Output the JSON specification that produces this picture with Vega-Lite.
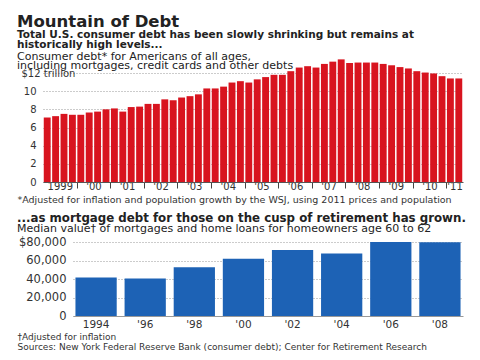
{
  "$schema": "https://vega.github.io/schema/vega-lite/v6.json",
  "background": "white",
  "padding": {"left": 17, "top": 13, "right": 5, "bottom": 0},
  "spacing": 8,
  "config": {
    "font": "DejaVu Sans",
    "view": {"stroke": null},
    "axis": {"labelColor": "#333", "labelFont": "DejaVu Sans", "titleFont": "DejaVu Sans", "titleColor": "#333"},
    "title": {"color": "#222", "subtitleColor": "#222", "font": "DejaVu Sans", "subtitleFont": "DejaVu Sans"}
  },
  "title": {
    "text": "Mountain of Debt",
    "subtitle": ["Total U.S. consumer debt has been slowly shrinking but remains at", "historically high levels..."],
    "anchor": "start",
    "fontSize": 16.5,
    "fontWeight": "bold",
    "subtitleFontSize": 10.5,
    "subtitleFontWeight": "bold",
    "subtitleLineHeight": 10,
    "subtitlePadding": 0,
    "offset": 0
  },
  "vconcat": [
    {
      "width": 390,
      "height": 109,
      "title": {
        "text": ["Consumer debt* for Americans of all ages,", "including mortgages, credit cards and other debts"],
        "anchor": "start",
        "frame": "group",
        "dx": -56,
        "fontSize": 11,
        "fontWeight": "normal",
        "lineHeight": 9,
        "offset": -11.5
      },
      "data": {
        "values": [
          {"q": "1999Q1", "debt": 7.1}, {"q": "1999Q2", "debt": 7.25}, {"q": "1999Q3", "debt": 7.5}, {"q": "1999Q4", "debt": 7.4},
          {"q": "2000Q1", "debt": 7.4}, {"q": "2000Q2", "debt": 7.65}, {"q": "2000Q3", "debt": 7.75}, {"q": "2000Q4", "debt": 8.0},
          {"q": "2001Q1", "debt": 8.1}, {"q": "2001Q2", "debt": 7.75}, {"q": "2001Q3", "debt": 8.25}, {"q": "2001Q4", "debt": 8.3},
          {"q": "2002Q1", "debt": 8.6}, {"q": "2002Q2", "debt": 8.6}, {"q": "2002Q3", "debt": 9.1}, {"q": "2002Q4", "debt": 9.0},
          {"q": "2003Q1", "debt": 9.3}, {"q": "2003Q2", "debt": 9.45}, {"q": "2003Q3", "debt": 9.65}, {"q": "2003Q4", "debt": 10.3},
          {"q": "2004Q1", "debt": 10.3}, {"q": "2004Q2", "debt": 10.5}, {"q": "2004Q3", "debt": 10.95}, {"q": "2004Q4", "debt": 11.1},
          {"q": "2005Q1", "debt": 10.95}, {"q": "2005Q2", "debt": 11.3}, {"q": "2005Q3", "debt": 11.55}, {"q": "2005Q4", "debt": 11.8},
          {"q": "2006Q1", "debt": 11.8}, {"q": "2006Q2", "debt": 12.2}, {"q": "2006Q3", "debt": 12.6}, {"q": "2006Q4", "debt": 12.75},
          {"q": "2007Q1", "debt": 12.6}, {"q": "2007Q2", "debt": 13.0}, {"q": "2007Q3", "debt": 13.25}, {"q": "2007Q4", "debt": 13.5},
          {"q": "2008Q1", "debt": 13.1}, {"q": "2008Q2", "debt": 13.15}, {"q": "2008Q3", "debt": 13.15}, {"q": "2008Q4", "debt": 13.15},
          {"q": "2009Q1", "debt": 13.0}, {"q": "2009Q2", "debt": 12.85}, {"q": "2009Q3", "debt": 12.65}, {"q": "2009Q4", "debt": 12.5},
          {"q": "2010Q1", "debt": 12.2}, {"q": "2010Q2", "debt": 12.05}, {"q": "2010Q3", "debt": 11.95}, {"q": "2010Q4", "debt": 11.65},
          {"q": "2011Q1", "debt": 11.4}, {"q": "2011Q2", "debt": 11.4}
        ]
      },
      "mark": {"type": "bar", "color": "#d8141f", "clip": false},
      "encoding": {
        "x": {
          "field": "q",
          "type": "ordinal",
          "sort": null,
          "scale": {"range": [-30, 390], "paddingInner": 0.18, "paddingOuter": 0.09},
          "axis": {
            "title": "*Adjusted for inflation and population growth by the WSJ, using 2011 prices and population",
            "titleFontSize": 9.5,
            "titleFontWeight": "normal",
            "titleAnchor": "start",
            "titleAlign": "left",
            "titleBaseline": "top",
            "titleX": -56,
            "titleY": 12,
            "labelAngle": 0,
            "labelFontSize": 10,
            "labelPadding": -7,
            "tickOffset": -4.2,
            "tickSize": 6,
            "tickColor": "#444",
            "tickOpacity": {"condition": {"test": "substring(datum.value, 4, 6) == 'Q1' && datum.value != '1999Q1'", "value": 1}, "value": 0},
            "domainColor": "#555",
            "labelExpr": "(substring(datum.value, 4, 6) == 'Q3' || datum.value == '2011Q2') ? (substring(datum.value, 0, 4) == '1999' ? '1999' : \"'\" + substring(datum.value, 2, 4)) : ''"
          }
        },
        "y": {
          "field": "debt",
          "type": "quantitative",
          "scale": {"domain": [0, 12], "nice": false},
          "axis": {
            "title": null,
            "values": [0, 2, 4, 6, 8, 10, 12],
            "domain": false,
            "ticks": false,
            "grid": true,
            "gridDash": [1, 2],
            "gridColor": "#999",
            "labelFontSize": 10,
            "labelExpr": "datum.value == 12 ? '$12 trillion' : datum.label",
            "labelAlign": {"condition": {"test": "datum.value == 12", "value": "left"}, "value": "right"},
            "labelPadding": {"condition": {"test": "datum.value == 12", "value": 52}, "value": 37}
          }
        }
      }
    },
    {
      "width": 390,
      "height": 74,
      "title": {
        "text": "...as mortgage debt for those on the cusp of retirement has grown.",
        "subtitle": "Median value† of mortgages and home loans for homeowners age 60 to 62",
        "anchor": "start",
        "frame": "group",
        "dx": -56,
        "fontSize": 11.8,
        "fontWeight": "bold",
        "subtitleFontSize": 11,
        "subtitlePadding": -1.5,
        "offset": 2
      },
      "data": {
        "values": [
          {"year": "1994", "value": 41600},
          {"year": "'96", "value": 40500},
          {"year": "'98", "value": 52700},
          {"year": "'00", "value": 62000},
          {"year": "'02", "value": 71300},
          {"year": "'04", "value": 67700},
          {"year": "'06", "value": 80000},
          {"year": "'08", "value": 79600}
        ]
      },
      "mark": {"type": "bar", "color": "#1d62b5"},
      "encoding": {
        "x": {
          "field": "year",
          "type": "nominal",
          "sort": null,
          "scale": {"paddingInner": 0.16, "paddingOuter": 0.05},
          "axis": {
            "title": ["†Adjusted for inflation", "Sources: New York Federal Reserve Bank (consumer debt); Center for Retirement Research"],
            "titleFontSize": 9,
            "titleFontWeight": "normal",
            "titleAnchor": "start",
            "titleAlign": "left",
            "titleBaseline": "top",
            "titleLineHeight": 10,
            "titleX": -56,
            "titleY": 16,
            "labelAngle": 0,
            "labelFontSize": 10.5,
            "labelPadding": 3,
            "ticks": false,
            "domainColor": "#999"
          }
        },
        "y": {
          "field": "value",
          "type": "quantitative",
          "scale": {"domain": [0, 80000], "nice": false},
          "axis": {
            "title": null,
            "values": [0, 20000, 40000, 60000, 80000],
            "domain": false,
            "ticks": false,
            "grid": true,
            "gridDash": [1, 2],
            "gridColor": "#999",
            "labelFontSize": 11.5,
            "labelPadding": 7,
            "labelExpr": "datum.value == 80000 ? '$80,000' : datum.label"
          }
        }
      }
    }
  ]
}
